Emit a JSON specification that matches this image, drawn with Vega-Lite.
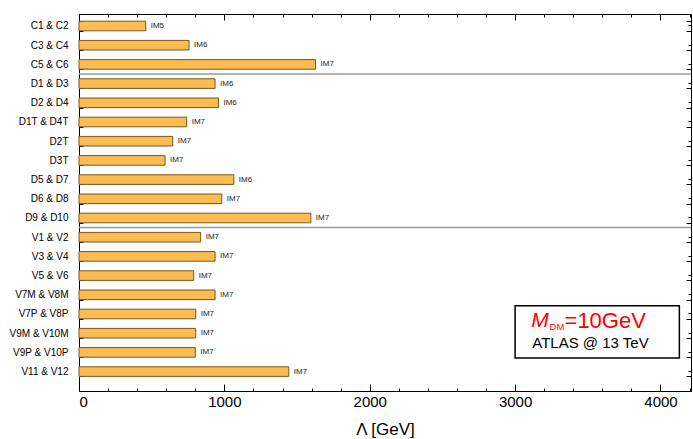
{
  "$schema": "https://vega.github.io/schema/vega-lite/v6.json",
  "width": 612,
  "height": 377,
  "autosize": "none",
  "padding": {"left": 79, "top": 14, "right": 2, "bottom": 48},
  "background": "white",
  "config": {
    "view": {"stroke": "#000000", "strokeWidth": 1},
    "font": "Liberation Sans",
    "axis": {"domain": false, "grid": false, "tickColor": "#000000", "labelColor": "#000000", "titleColor": "#000000", "labelFont": "Liberation Sans", "titleFont": "Liberation Sans"}
  },
  "datasets": {
    "ops": [
      {"cat": "C1 & C2", "lambda": 459, "op": "IM5"},
      {"cat": "C3 & C4", "lambda": 757, "op": "IM6"},
      {"cat": "C5 & C6", "lambda": 1627, "op": "IM7"},
      {"cat": "D1 & D3", "lambda": 936, "op": "IM6"},
      {"cat": "D2 & D4", "lambda": 959, "op": "IM6"},
      {"cat": "D1T & D4T", "lambda": 741, "op": "IM7"},
      {"cat": "D2T", "lambda": 645, "op": "IM7"},
      {"cat": "D3T", "lambda": 592, "op": "IM7"},
      {"cat": "D5 & D7", "lambda": 1065, "op": "IM6"},
      {"cat": "D6 & D8", "lambda": 982, "op": "IM7"},
      {"cat": "D9 & D10", "lambda": 1595, "op": "IM7"},
      {"cat": "V1 & V2", "lambda": 837, "op": "IM7"},
      {"cat": "V3 & V4", "lambda": 936, "op": "IM7"},
      {"cat": "V5 & V6", "lambda": 789, "op": "IM7"},
      {"cat": "V7M & V8M", "lambda": 936, "op": "IM7"},
      {"cat": "V7P & V8P", "lambda": 803, "op": "IM7"},
      {"cat": "V9M & V10M", "lambda": 803, "op": "IM7"},
      {"cat": "V9P & V10P", "lambda": 800, "op": "IM7"},
      {"cat": "V11 & V12", "lambda": 1443, "op": "IM7"}
    ],
    "separators": [{"cat": "D1 & D3"}, {"cat": "V1 & V2"}],
    "box": [{"x1": 3000, "x2": 4130, "top": "V7P & V8P", "bottom": "V9P & V10P"}],
    "m": [{"x": 3111, "cat": "V7P & V8P", "t": "M"}],
    "dm": [{"x": 3237, "cat": "V7P & V8P", "t": "DM"}],
    "eq": [{"x": 3340, "cat": "V7P & V8P", "t": "=10GeV"}],
    "atlas": [{"x": 3118, "cat": "V9M & V10M", "t": "ATLAS @ 13 TeV"}]
  },
  "resolve": {"axis": {"x": "independent", "y": "independent"}},
  "layer": [
    {
      "data": {"name": "ops"},
      "mark": {"type": "bar", "fill": "#fcbc52", "stroke": "#7a5520", "strokeWidth": 1},
      "encoding": {
        "y": {
          "field": "cat", "type": "nominal", "sort": null,
          "scale": {
            "domain": ["C1 & C2","C3 & C4","C5 & C6","D1 & D3","D2 & D4","D1T & D4T","D2T","D3T","D5 & D7","D6 & D8","D9 & D10","V1 & V2","V3 & V4","V5 & V6","V7M & V8M","V7P & V8P","V9M & V10M","V9P & V10P","V11 & V12"],
            "paddingInner": 0.5, "paddingOuter": 0.568, "align": 0.33
          },
          "axis": {"orient": "left", "title": null, "tickBand": "extent", "tickSize": -4, "labelFontSize": 10, "labelPadding": 15}
        },
        "x": {
          "field": "lambda", "type": "quantitative",
          "scale": {"domain": [0, 4210], "nice": false, "zero": true},
          "axis": {"orient": "bottom", "values": [0, 1000, 2000, 3000, 4000], "format": "d", "tickSize": -7, "labelFontSize": 15, "labelPadding": 10, "title": "Λ [GeV]", "titleFontSize": 17, "titleFontWeight": "normal", "titlePadding": 12}
        }
      }
    },
    {
      "data": {"name": "ops"},
      "mark": {"type": "text", "align": "left", "baseline": "middle", "dx": 5, "fontSize": 8, "color": "#222222"},
      "encoding": {
        "y": {"field": "cat", "type": "nominal", "sort": null,
          "axis": {"orient": "right", "title": null, "tickBand": "extent", "tickSize": -5, "labels": false}},
        "x": {"field": "lambda", "type": "quantitative",
          "axis": {"orient": "bottom", "values": [200,400,600,800,1200,1400,1600,1800,2200,2400,2600,2800,3200,3400,3600,3800,4200], "tickSize": -3, "labels": false, "title": null}},
        "text": {"field": "op"}
      }
    },
    {
      "data": {"name": "separators"},
      "mark": {"type": "rule", "color": "#9a9a9a", "strokeWidth": 1.5, "yOffset": -9.6},
      "encoding": {
        "y": {"field": "cat", "type": "nominal", "sort": null,
          "axis": {"orient": "right", "title": null, "tickSize": -3, "labels": false, "values": ["C1 & C2","C3 & C4","C5 & C6","D1 & D3","D2 & D4","D1T & D4T","D2T","D3T","D5 & D7","D6 & D8","D9 & D10","V1 & V2","V3 & V4","V5 & V6","V7M & V8M","V7P & V8P","V9M & V10M","V9P & V10P","V11 & V12"]}}
      }
    },
    {
      "data": {"name": "box"},
      "mark": {"type": "rect", "fill": "white", "stroke": "#000000", "strokeWidth": 1.5, "yOffset": -3.5, "y2Offset": 5.6},
      "encoding": {
        "x": {"field": "x1", "type": "quantitative",
          "axis": {"orient": "top", "values": [0, 1000, 2000, 3000, 4000], "tickSize": -6, "labels": false, "title": null}},
        "x2": {"field": "x2"},
        "y": {"field": "top", "type": "nominal", "bandPosition": 0, "axis": null},
        "y2": {"field": "bottom", "bandPosition": 0.5}
      }
    },
    {
      "data": {"name": "m"},
      "mark": {"type": "text", "align": "left", "baseline": "middle", "fontSize": 21, "fontStyle": "italic", "color": "#ff0000", "yOffset": 7},
      "encoding": {
        "x": {"field": "x", "type": "quantitative",
          "axis": {"orient": "top", "values": [200,400,600,800,1200,1400,1600,1800,2200,2400,2600,2800,3200,3400,3600,3800,4200], "tickSize": -3, "labels": false, "title": null}},
        "y": {"field": "cat", "type": "nominal", "axis": null},
        "text": {"field": "t"}
      }
    },
    {
      "data": {"name": "dm"},
      "mark": {"type": "text", "align": "left", "baseline": "middle", "fontSize": 9.5, "color": "#ff0000", "yOffset": 13},
      "encoding": {
        "x": {"field": "x", "type": "quantitative", "axis": null},
        "y": {"field": "cat", "type": "nominal", "axis": null},
        "text": {"field": "t"}
      }
    },
    {
      "data": {"name": "eq"},
      "mark": {"type": "text", "align": "left", "baseline": "middle", "fontSize": 22, "color": "#ff0000", "yOffset": 7},
      "encoding": {
        "x": {"field": "x", "type": "quantitative", "axis": null},
        "y": {"field": "cat", "type": "nominal", "axis": null},
        "text": {"field": "t"}
      }
    },
    {
      "data": {"name": "atlas"},
      "mark": {"type": "text", "align": "left", "baseline": "middle", "fontSize": 15, "color": "#000000", "yOffset": 10},
      "encoding": {
        "x": {"field": "x", "type": "quantitative", "axis": null},
        "y": {"field": "cat", "type": "nominal", "axis": null},
        "text": {"field": "t"}
      }
    }
  ]
}
